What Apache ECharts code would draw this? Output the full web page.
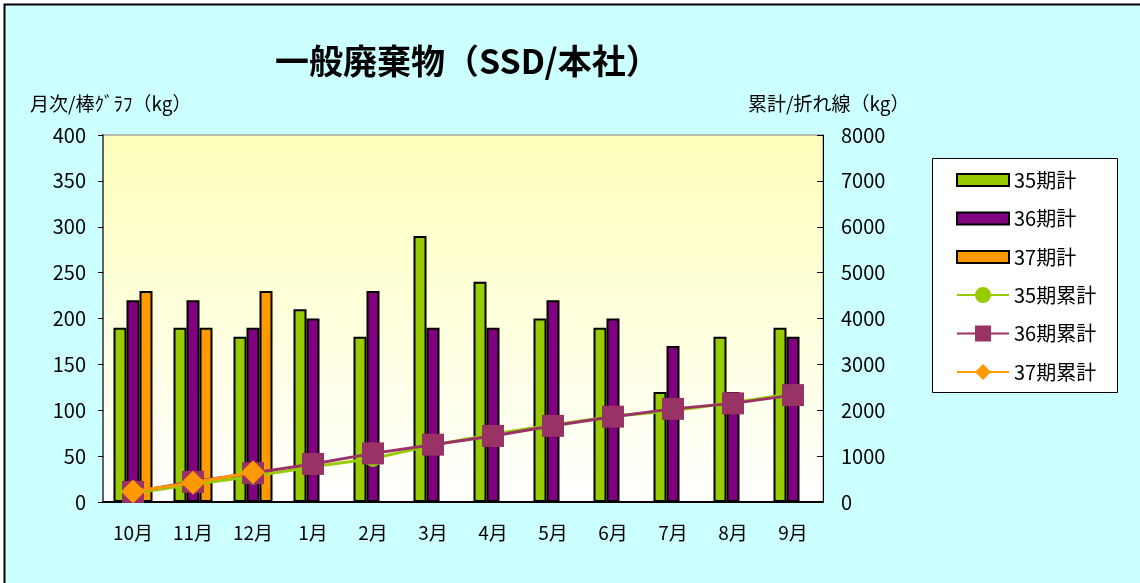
<!DOCTYPE html>
<html>
<head>
<meta charset="utf-8">
<script src="https://cdn.jsdelivr.net/npm/echarts@6/dist/echarts.min.js"></script>
<style>
  html, body { margin: 0; padding: 0; background: #fff; }
  #main { width: 1140px; height: 583px; }
</style>
</head>
<body>
<div id="main"></div>
<script>
// 月
var months = ['10月', '11月', '12月', '1月', '2月', '3月', '4月', '5月', '6月', '7月', '8月', '9月'];

// 月次 (kg)
var ki35 = [190, 190, 180, 210, 180, 290, 240, 200, 190, 120, 180, 190];
var ki36 = [220, 220, 190, 200, 230, 190, 190, 220, 200, 170, 120, 180];
var ki37 = [230, 190, 230, null, null, null, null, null, null, null, null, null];

// 累計 (kg)
var ruikei35 = [190, 380, 560, 770, 950, 1240, 1480, 1680, 1870, 1990, 2170, 2360];
var ruikei36 = [220, 440, 630, 830, 1060, 1250, 1440, 1660, 1860, 2030, 2150, 2330];
var ruikei37 = [230, 420, 650, null, null, null, null, null, null, null, null, null];

var FONT = '"Noto Sans CJK JP", "Noto Sans", sans-serif';
var GREEN = '#99CC00', PURPLE = '#800080', ORANGE = '#FF9900', PLUM = '#993366';

var myChart = echarts.init(document.getElementById('main'));

function bar(name, data, color) {
  return {
    name: name, type: 'bar', yAxisIndex: 0, data: data,
    barWidth: 13, barGap: '0%',
    itemStyle: { color: color, borderColor: '#000', borderWidth: 2 }
  };
}

function line(name, data, color, symbol, size, z) {
  return {
    name: name, type: 'line', yAxisIndex: 1, data: data, z: z,
    symbol: symbol, symbolSize: size, showSymbol: true,
    lineStyle: { color: color, width: 3 },
    itemStyle: { color: color, borderWidth: 0 }
  };
}

var legendText = { fontFamily: FONT, fontSize: 20, color: '#000' };

var option = {
  backgroundColor: '#fff',
  graphic: [{
    type: 'rect', z: -10, silent: true,
    shape: { x: 4.5, y: 4.5, width: 1200, height: 700 },
    style: { fill: '#CCFFFF', stroke: '#000', lineWidth: 2 }
  }, {
    // 凡例の枠
    type: 'rect', z: -5, silent: true,
    shape: { x: 932.5, y: 158.5, width: 185, height: 234 },
    style: { fill: '#fff', stroke: '#000', lineWidth: 1 }
  }],
  title: [
    { text: '一般廃棄物（SSD/本社）', left: 270, top: 39,
      textStyle: { fontFamily: FONT, fontSize: 34, fontWeight: 'bold', color: '#000' } },
    { text: '月次/棒ｸﾞﾗﾌ（kg）', left: 25, top: 89,
      textStyle: { fontFamily: FONT, fontSize: 19, fontWeight: 'normal', color: '#000' } },
    { text: '累計/折れ線（kg）', left: 743, top: 89,
      textStyle: { fontFamily: FONT, fontSize: 19, fontWeight: 'normal', color: '#000' } }
  ],
  legend: [{
    orient: 'vertical', left: 956, top: 170, padding: 0,
    itemWidth: 52, itemHeight: 12, itemGap: 18.5, icon: 'rect',
    textStyle: legendText,
    data: ['35期計', '36期計', '37期計']
  }, {
    orient: 'vertical', left: 956, top: 285, padding: 0,
    itemWidth: 52, itemHeight: 20, itemGap: 18.5,
    textStyle: legendText,
    data: ['35期累計', '36期累計', '37期累計']
  }],
  grid: {
    left: 103, right: 317, top: 135, bottom: 81,
    show: true, borderColor: '#808080', borderWidth: 1,
    backgroundColor: new echarts.graphic.LinearGradient(0, 0, 0, 1, [
      { offset: 0, color: '#FFFFBB' },
      { offset: 1, color: '#FFFFFF' }
    ])
  },
  xAxis: {
    type: 'category', data: months,
    axisLine: { lineStyle: { color: '#000', width: 2 } },
    axisTick: { inside: true, length: 6, lineStyle: { color: '#000' } },
    axisLabel: { margin: 21, fontFamily: FONT, fontSize: 19, color: '#000' }
  },
  yAxis: [{
    type: 'value', min: 0, max: 400, interval: 50, position: 'left',
    axisLine: { show: true, lineStyle: { color: '#606060', width: 2 } },
    axisTick: { show: true, length: 5, lineStyle: { color: '#000' } },
    axisLabel: { margin: 17, fontFamily: FONT, fontSize: 20, color: '#000' },
    splitLine: { show: false }
  }, {
    type: 'value', min: 0, max: 8000, interval: 1000, position: 'right',
    axisLine: { show: true, lineStyle: { color: '#000', width: 1 } },
    axisTick: { show: true, inside: true, length: 6, lineStyle: { color: '#000' } },
    axisLabel: {
      margin: 18, fontFamily: FONT, fontSize: 20, color: '#000',
      formatter: function (v) { return String(v); }
    },
    splitLine: { show: false }
  }],
  series: [
    bar('35期計', ki35, GREEN),
    bar('36期計', ki36, PURPLE),
    bar('37期計', ki37, ORANGE),
    line('35期累計', ruikei35, GREEN, 'circle', 17, 3),
    line('36期累計', ruikei36, PLUM, 'rect', 22, 4),
    line('37期累計', ruikei37, ORANGE, 'diamond', 24, 5)
  ]
};
myChart.setOption(option);
</script>
</body>
</html>
